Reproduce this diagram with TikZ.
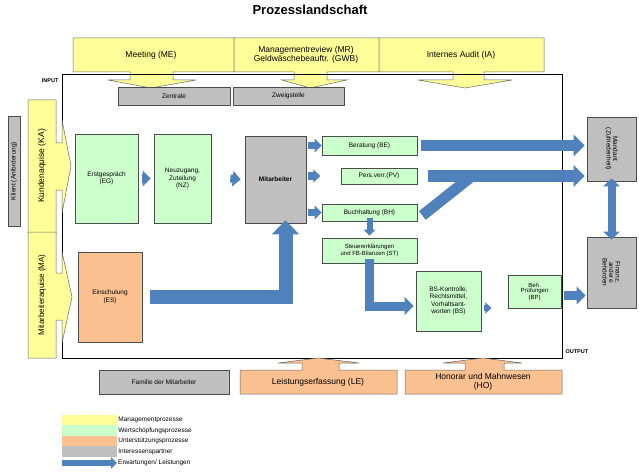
\documentclass[tikz,border=0pt]{standalone}
\usepackage{fontspec}
\setmainfont{Liberation Sans}
\usetikzlibrary{arrows.meta,calc}
\definecolor{myyel}{HTML}{FFFF99}
\definecolor{mygrn}{HTML}{CCFFCC}
\definecolor{myorg}{HTML}{FAC090}
\definecolor{mygry}{HTML}{BFBFBF}
\definecolor{myblu}{HTML}{4F81BD}
\tikzset{
 box/.style={draw=black!70,line width=0.6pt,inner sep=1pt,align=center,font=\fontsize{6.5}{7.5}\selectfont},
 grn/.style={box,fill=mygrn},
 gry/.style={box,fill=mygry},
 org/.style={box,fill=myorg},
 call/.style={draw=black!60,line width=0.5pt},
 fat/.style={draw=myblu,line width=#1,-{Triangle[length=#1,width=1.9*#1]}},
 fatn/.style={draw=myblu,line width=#1},
}
\begin{document}
\begin{tikzpicture}[x=1pt,y=-1pt]
\useasboundingbox (0,0) rectangle (639,473);
\node[font=\bfseries\fontsize{13}{15}\selectfont] (T) at (310,10) {Prozesslandschaft};
% top callouts
\draw[call,fill=myyel] (73,38)--(234,38)--(234,72)--(173,72)--(173,80)--(196,80)--(151,88)--(108,80)--(130,80)--(130,72)--(73,72)--cycle;
\node[font=\fontsize{8.5}{9}\selectfont] (ME) at (151,55) {Meeting (ME)};
\draw[call,fill=myyel] (234,38)--(379,38)--(379,72)--(327,72)--(327,80)--(347,80)--(310,88)--(282,80)--(294,80)--(294,72)--(234,72)--cycle;
\node[font=\fontsize{8.5}{9}\selectfont,align=center] (MR) at (306,55) {Managementreview (MR)\\Geldwäschebeauftr. (GWB)};
\draw[call,fill=myyel] (379,38)--(544,38)--(544,72)--(484,72)--(484,80)--(512,80)--(465,88)--(418,80)--(453,80)--(453,72)--(379,72)--cycle;
\node[font=\fontsize{8.5}{9}\selectfont] (IA) at (461,55) {Internes Audit (IA)};
% main frame
\draw[line width=1pt] (62,75) rectangle (562,358);
\node[font=\bfseries\fontsize{5.5}{6}\selectfont,anchor=east] (IN) at (62,81) {INPUT};
\node[font=\bfseries\fontsize{5.5}{6}\selectfont,anchor=west] (OUT) at (562,352) {OUTPUT};
% left callouts
\draw[call,fill=myyel] (28,100)--(56,100)--(56,143)--(62,143)--(62,120)--(71,166)--(62,213)--(62,190)--(56,190)--(56,233)--(28,233)--cycle;
\node[rotate=90,font=\fontsize{8.5}{9}\selectfont] (KA) at (42,166) {Kundenaquise (KA)};
\draw[call,fill=myyel] (28,232)--(56,232)--(56,273)--(62,273)--(62,252)--(72,297)--(62,343)--(62,320)--(56,320)--(56,358)--(28,358)--cycle;
\node[rotate=90,font=\fontsize{8}{9}\selectfont] (MA) at (42,295) {Mitarbeiteraquise (MA)};
\node[gry,minimum width=12,minimum height=110] (KL) at (14,171) {};
\node[rotate=90,font=\fontsize{6.5}{7}\selectfont] at (KL) {Klient (Anforderung)};
% boxes
\node[gry,minimum width=112,minimum height=18] (ZE) at (174,96) {Zentrale};
\node[gry,minimum width=111,minimum height=18] (ZW) at (288.5,96) {Zweigstelle};
\node[grn,minimum width=63,minimum height=89] (EG) at (106.5,178.5) {Erstgespräch\\(EG)};
\node[grn,minimum width=57,minimum height=89] (NZ) at (182.5,178.5) {Neuzugang,\\Zuteilung\\(NZ)};
\node[gry,minimum width=61,minimum height=87,font=\bfseries\fontsize{6.5}{7}\selectfont] (MI) at (275.5,179.5) {Mitarbeiter};
\node[grn,minimum width=95,minimum height=19] (BE) at (369.5,145.5) {Beratung (BE)};
\node[grn,minimum width=76,minimum height=16] (PV) at (379,176) {Pers.verr.(PV)};
\node[grn,minimum width=95,minimum height=17] (BH) at (369.5,212.5) {Buchhaltung (BH)};
\node[grn,minimum width=95,minimum height=25,font=\fontsize{6}{6.5}\selectfont] (ST) at (369.5,250.5) {Steuererklärungen\\und FB-Bilanzen (ST)};
\node[grn,minimum width=65,minimum height=60] (BS) at (448.5,301) {BS-Kontrolle,\\Rechtsmittel,\\Vorhaltsant-\\worten (BS)};
\node[grn,minimum width=53,minimum height=33,font=\fontsize{6}{5.5}\selectfont] (BP) at (534.5,291.5) {Beh.\\Prüfungen\\(BP)};
\node[org,minimum width=64,minimum height=90] (ES) at (110,297) {Einschulung\\(ES)};
\node[gry,minimum width=49,minimum height=64] (MD) at (611.5,149) {};
\node[rotate=-90,align=center,font=\fontsize{6.5}{6.5}\selectfont] at (MD) {Mandant\\(Zufriedenheit)};
\node[gry,minimum width=49,minimum height=71] (FI) at (611.5,272.5) {};
\node[rotate=-90,align=center,font=\fontsize{6.5}{6.5}\selectfont] at (FI) {Finanz,\\andere\\Behörden};
% bottom
\node[gry,minimum width=130,minimum height=24] (FA) at (164,382) {Familie der Mitarbeiter};
\draw[call,fill=myorg] (240,394)--(240,370)--(302,370)--(302,363)--(278,363)--(318,358)--(359,363)--(339,363)--(339,370)--(397,370)--(397,394)--cycle;
\node[font=\fontsize{8.5}{9}\selectfont] (LE) at (318,382) {Leistungserfassung (LE)};
\draw[call,fill=myorg] (405,394)--(405,370)--(465,370)--(465,363)--(443,363)--(483,358)--(522,363)--(504,363)--(504,370)--(562,370)--(562,394)--cycle;
\node[font=\fontsize{8.5}{8.5}\selectfont,align=center] (HO) at (483,382) {Honorar und Mahnwesen\\(HO)};
% blue arrows
\draw[fat=8pt] ($(EG.east)+(4,0)$) -- ($(NZ.west)+(-3,0)$);
\draw[fat=8pt] ($(NZ.east)+(19,0)$) -- ($(MI.west)+(-4,0)$);
\draw[fat=7pt] ($(MI.east|-BE.west)+(2,0)$) -- (BE.west);
\draw[fat=7pt] ($(MI.east|-PV.west)+(2,0)$) -- ($(MI.east|-PV.west)+(14,0)$);
\draw[fat=7pt] ($(MI.east|-BH.west)+(2,0)$) -- (BH.west);
\draw[fat=11pt] ($(BE.east)+(4,0)$) -- ($(MD.west|-BE.east)+(-2,0)$);
\draw[fatn=11pt] ($(BH.east)+(5,3)$) -- (472,176);
\draw[fat=11pt] ($(PV.east)+(11,0)$) -- ($(MD.west|-PV.east)+(-2,0)$);
\draw[fat=6pt] ($(BH.south)+(0,-3)$) -- ($(ST.north)+(0,-2)$);
\draw[fat=9pt] ($(ST.south)+(0,-4)$) |- ($(BS.west)+(-2,5)$);
\draw[fat=14pt] ($(ES.east)+(8,0)$) -| ($(MI.south)+(10,-3)$);
\draw[fat=6pt] ($(BS.east)+(3,7)$) -- ($(BS.east)+(10,7)$);
\draw[fat=9pt] ($(BP.east)+(3,4)$) -- ($(FI.west|-BP.east)+(-1,4)$);
\draw[draw=myblu,line width=8pt,{Triangle[length=8pt,width=16pt]}-{Triangle[length=8pt,width=16pt]}] ($(MD.south)+(0,-3)$) -- ($(FI.north)+(0,3)$);
% legend
\node[fill=myyel,minimum width=55,minimum height=10.5,inner sep=0] (L1) at (89.5,420) {};
\node[fill=mygrn,minimum width=55,minimum height=10.5,inner sep=0] (L2) at (89.5,430.5) {};
\node[fill=myorg,minimum width=55,minimum height=10.5,inner sep=0] (L3) at (89.5,441) {};
\node[fill=mygry,minimum width=55,minimum height=10.5,inner sep=0] (L4) at (89.5,451.5) {};
\coordinate (L5a) at (62,463);
\coordinate (L5b) at (117,463);
\draw[fat=6pt] (L5a) -- (L5b);
\tikzset{leg/.style={anchor=west,font=\fontsize{6.5}{7}\selectfont,inner sep=1pt}}
\node[leg] at (L1.east) {Managementprozesse};
\node[leg] at (L2.east) {Wertschöpfungsprozesse};
\node[leg] at (L3.east) {Unterstützungsprozesse};
\node[leg] at (L4.east) {Interessenspartner};
\node[leg] at (L5b) {Erwartungen/ Leistungen};
\end{tikzpicture}
\end{document}
